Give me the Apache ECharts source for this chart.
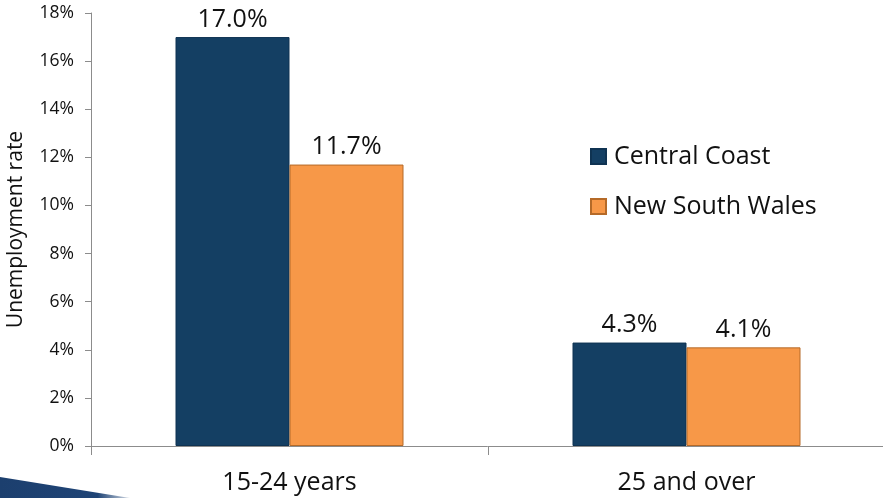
<!DOCTYPE html>
<html>
<head>
<meta charset="utf-8">
<script src="https://cdn.jsdelivr.net/npm/echarts@6/dist/echarts.min.js"></script>
<style>
  html, body { margin: 0; padding: 0; background: #fff; }
  #chart { width: 883px; height: 498px; }
</style>
</head>
<body>
<div id="chart"></div>
<script>
// Unemployment rate by age group
const categories = ['15-24 years', '25 and over'];
const centralCoast = [17.0, 4.3];
const newSouthWales = [11.7, 4.1];
const yTicks = [0, 2, 4, 6, 8, 10, 12, 14, 16, 18];

const FONT = '"Open Sans", Lato, sans-serif';

const chart = echarts.init(document.getElementById('chart'));

const labelStyle = {
  show: true,
  position: 'top',
  distance: 5,
  fontFamily: FONT,
  fontSize: 25,
  color: '#111',
  formatter: p => p.value.toFixed(1) + '%'
};

chart.setOption({
  animation: false,
  textStyle: { fontFamily: FONT },
  grid: { left: 91, right: -2, top: 13, bottom: 52, containLabel: false, outerBoundsMode: 'none' },
  legend: {
    orient: 'vertical',
    left: 585,
    top: 139,
    itemWidth: 15,
    itemHeight: 15,
    itemGap: 25,
    icon: 'rect',
    textStyle: { fontFamily: FONT, fontSize: 25, color: '#111', padding: [0, 0, 0, 3] },
    data: ['Central Coast', 'New South Wales']
  },
  xAxis: {
    type: 'category',
    data: categories,
    axisLine: { lineStyle: { color: '#8c8c8c', width: 1 } },
    axisTick: { show: true, length: 9, lineStyle: { color: '#8c8c8c' } },
    axisLabel: { fontFamily: FONT, fontSize: 25, color: '#111', margin: 24 }
  },
  yAxis: {
    type: 'value',
    min: yTicks[0],
    max: yTicks[yTicks.length - 1],
    interval: 2,
    name: 'Unemployment rate',
    nameLocation: 'middle',
    nameGap: 64,
    nameTextStyle: { fontFamily: FONT, fontSize: 21, color: '#111' },
    axisLine: { show: true, lineStyle: { color: '#8c8c8c', width: 1 } },
    axisTick: { show: true, length: 6, inside: false, lineStyle: { color: '#8c8c8c' } },
    splitLine: { show: false },
    axisLabel: { fontFamily: FONT, fontSize: 17.5, color: '#111', margin: 17, formatter: v => v + '%' }
  },
  series: [
    {
      name: 'Central Coast',
      type: 'bar',
      data: centralCoast,
      barWidth: 114,
      barGap: '0%',
      itemStyle: { color: '#143f63', borderColor: '#0f3352', borderWidth: 1 },
      label: labelStyle
    },
    {
      name: 'New South Wales',
      type: 'bar',
      data: newSouthWales,
      barWidth: 114,
      itemStyle: { color: '#f79848', borderColor: '#b56a28', borderWidth: 1 },
      label: labelStyle
    }
  ],
  graphic: [
    {
      type: 'polygon',
      shape: { points: [[0, 477], [130, 498], [0, 498]] },
      style: {
        fill: new echarts.graphic.LinearGradient(0, 0, 1, 0, [
          { offset: 0, color: '#1c3f6e' },
          { offset: 0.75, color: '#1f4476' },
          { offset: 1, color: 'rgba(31,68,118,0.2)' }
        ])
      },
      silent: true
    }
  ]
});
</script>
</body>
</html>
